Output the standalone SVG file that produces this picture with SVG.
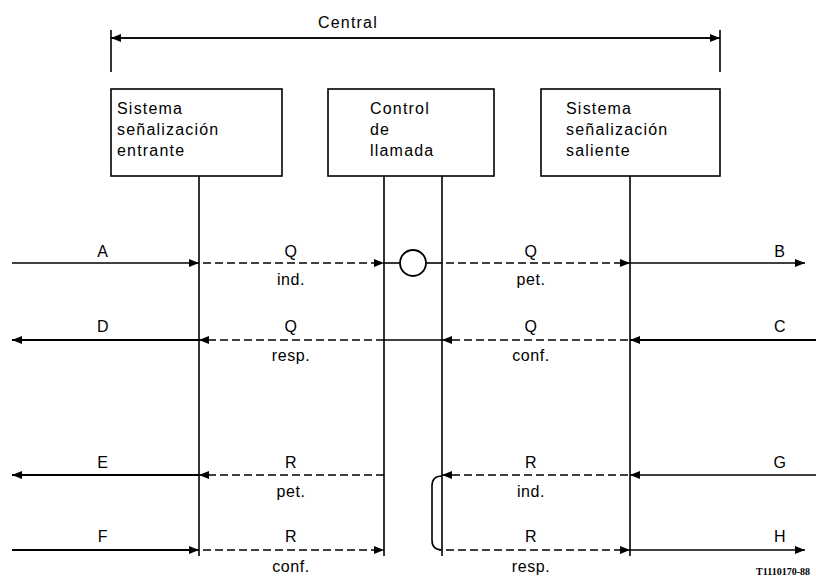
<svg xmlns="http://www.w3.org/2000/svg" width="816" height="578" viewBox="0 0 816 578">
<style>
.t{font-family:"Liberation Sans",Arial,sans-serif;font-size:16px;fill:#000;letter-spacing:0.6px}
.b{font-size:16px;letter-spacing:1.2px}
.c{text-anchor:middle}
.box{fill:#fff;stroke:#000;stroke-width:1.6}
.ln{fill:none;stroke:#000;stroke-width:1.6}
.th{fill:none;stroke:#000;stroke-width:2}
.ds{fill:none;stroke:#000;stroke-width:1.6;stroke-dasharray:8 4}
</style>
<defs>
<marker id="ah" viewBox="0 0 10 8" refX="10" refY="4" markerWidth="10" markerHeight="8" markerUnits="userSpaceOnUse" orient="auto">
<path d="M0,0 L10,4 L0,8 Z" fill="#000"/>
</marker>
</defs>
<rect width="816" height="578" fill="#fff"/>
<g id="central">
<text class="t b c" x="348" y="28">Central</text>
<line class="ln" x1="111" y1="30" x2="111" y2="72"/>
<line class="ln" x1="720" y1="30" x2="720" y2="72"/>
<line class="ln" x1="720" y1="38" x2="111" y2="38" marker-end="url(#ah)"/>
<line class="ln" x1="111" y1="38" x2="720" y2="38" marker-end="url(#ah)"/>
</g>
<g id="entrante">
<rect class="box" x="111" y="89" width="171" height="87"/>
<text class="t b" x="117" y="114">Sistema</text>
<text class="t b" x="117" y="135">señalización</text>
<text class="t b" x="117" y="156">entrante</text>
</g>
<g id="control">
<rect class="box" x="328" y="89" width="166" height="87"/>
<text class="t b" x="370" y="114">Control</text>
<text class="t b" x="370" y="135">de</text>
<text class="t b" x="370" y="156">llamada</text>
</g>
<g id="saliente">
<rect class="box" x="541" y="89" width="179" height="87"/>
<text class="t b" x="566" y="114">Sistema</text>
<text class="t b" x="566" y="135">señalización</text>
<text class="t b" x="566" y="156">saliente</text>
</g>
<g id="circle">
<circle cx="413" cy="263" r="13" fill="#fff" stroke="#000" stroke-width="1.8"/>
</g>
<g id="connectors">
<line class="ln" x1="199" y1="176" x2="199" y2="556"/>
<line class="ln" x1="384" y1="176" x2="384" y2="556"/>
<line class="ln" x1="442" y1="176" x2="442" y2="556"/>
<line class="ln" x1="630" y1="176" x2="630" y2="556"/>
<line class="ln" x1="12" y1="263" x2="199" y2="263" marker-end="url(#ah)"/>
<line class="ds" x1="203" y1="263" x2="384" y2="263" marker-end="url(#ah)"/>
<line class="ln" x1="384" y1="263" x2="400" y2="263"/>
<line class="ln" x1="426" y1="263" x2="442" y2="263"/>
<line class="ds" x1="446" y1="263" x2="630" y2="263" marker-end="url(#ah)"/>
<line class="ln" x1="630" y1="263" x2="805" y2="263" marker-end="url(#ah)"/>
<line class="th" x1="199" y1="340" x2="12" y2="340" marker-end="url(#ah)"/>
<line class="ds" x1="384" y1="340" x2="199" y2="340" marker-end="url(#ah)"/>
<line class="ln" x1="384" y1="340" x2="442" y2="340"/>
<line class="ds" x1="628" y1="340" x2="442" y2="340" marker-end="url(#ah)"/>
<line class="th" x1="816" y1="340" x2="630" y2="340" marker-end="url(#ah)"/>
<line class="th" x1="199" y1="475" x2="12" y2="475" marker-end="url(#ah)"/>
<line class="ds" x1="384" y1="475" x2="199" y2="475" marker-end="url(#ah)"/>
<line class="ds" x1="628" y1="475" x2="442" y2="475" marker-end="url(#ah)"/>
<line class="ln" x1="816" y1="475" x2="630" y2="475" marker-end="url(#ah)"/>
<line class="th" x1="12" y1="550" x2="199" y2="550" marker-end="url(#ah)"/>
<line class="ds" x1="203" y1="550" x2="384" y2="550" marker-end="url(#ah)"/>
<line class="ds" x1="446" y1="550" x2="630" y2="550" marker-end="url(#ah)"/>
<line class="ln" x1="630" y1="550" x2="805" y2="550" marker-end="url(#ah)"/>
<path class="ln" d="M442,476 Q432,476 432,486 L432,540 Q432,550 442,550"/>
</g>
<g id="labels">
<text class="t c" x="103" y="257">A</text>
<text class="t c" x="291" y="257">Q</text>
<text class="t c" x="291" y="285">ind.</text>
<text class="t c" x="531" y="257">Q</text>
<text class="t c" x="531" y="285">pet.</text>
<text class="t c" x="780" y="257">B</text>
<text class="t c" x="103" y="332">D</text>
<text class="t c" x="291" y="332">Q</text>
<text class="t c" x="291" y="361">resp.</text>
<text class="t c" x="531" y="332">Q</text>
<text class="t c" x="531" y="361">conf.</text>
<text class="t c" x="780" y="332">C</text>
<text class="t c" x="103" y="468">E</text>
<text class="t c" x="291" y="468">R</text>
<text class="t c" x="291" y="497">pet.</text>
<text class="t c" x="531" y="468">R</text>
<text class="t c" x="531" y="497">ind.</text>
<text class="t c" x="780" y="468">G</text>
<text class="t c" x="103" y="542">F</text>
<text class="t c" x="291" y="542">R</text>
<text class="t c" x="291" y="572">conf.</text>
<text class="t c" x="531" y="542">R</text>
<text class="t c" x="531" y="572">resp.</text>
<text class="t c" x="780" y="542">H</text>
<text x="810" y="575" text-anchor="end" style="font-family:'Liberation Serif',serif;font-size:10px;font-weight:bold">T1110170-88</text>
</g>
</svg>
